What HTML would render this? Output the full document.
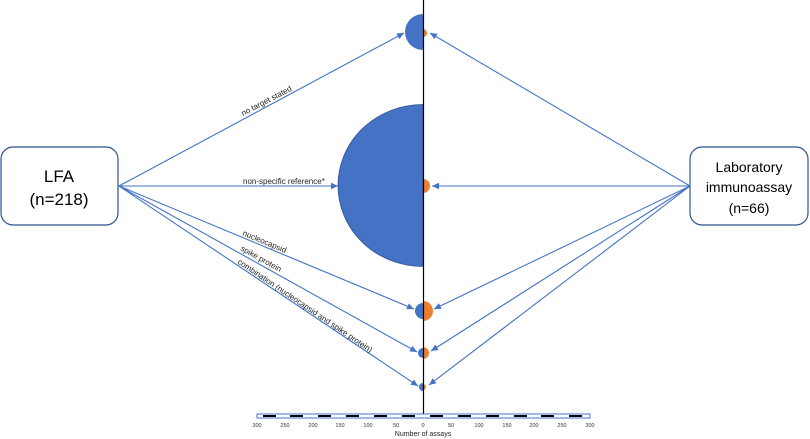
<!DOCTYPE html>
<html><head><meta charset="utf-8"><style>
body{margin:0;background:#fff;}
svg{display:block;font-family:"Liberation Sans",sans-serif;}
</style></head><body>
<svg width="810" height="439" viewBox="0 0 810 439" xmlns="http://www.w3.org/2000/svg">
<defs>
<marker id="a" markerWidth="8" markerHeight="8" refX="7" refY="4" orient="auto" markerUnits="userSpaceOnUse">
<path d="M0,0.8 L7,4 L0,7.2 z" fill="#4472c4"/></marker>
</defs>
<path d="M423,14 A18,18 0 0 0 423,50 Z" fill="#4472c4"/>
<path d="M423,104.5 A85,81 0 0 0 423,266.5 Z" fill="#4472c4" stroke="#2f528f" stroke-width="0.8"/>
<path d="M423,303 A8,8 0 0 0 423,319 Z" fill="#4472c4"/>
<path d="M423,348 A5,5 0 0 0 423,358 Z" fill="#4472c4"/>
<path d="M423,383 A4,4 0 0 0 423,391 Z" fill="#4472c4"/>
<path d="M423,29 A4,4 0 0 1 423,37 Z" fill="#ed7d31"/>
<path d="M423,179 A7,7 0 0 1 423,193 Z" fill="#ed7d31"/>
<path d="M423,301 A10,10 0 0 1 423,321 Z" fill="#ed7d31"/>
<path d="M423,347 A6,6 0 0 1 423,359 Z" fill="#ed7d31"/>
<path d="M423,384 A3,3 0 0 1 423,390 Z" fill="#ed7d31"/>
<line x1="423.5" y1="0" x2="423.5" y2="414" stroke="#000" stroke-width="1.2"/>
<rect x="1" y="147" width="117" height="78" rx="12" fill="#fff" stroke="#2f528f" stroke-width="1.2"/>
<text x="59" y="182" font-size="17" text-anchor="middle" fill="#000">LFA</text>
<text x="59" y="205" font-size="17" text-anchor="middle" fill="#000">(n=218)</text>
<rect x="690" y="147" width="118" height="78" rx="12" fill="#fff" stroke="#2f528f" stroke-width="1.2"/>
<text x="749" y="172" font-size="14" text-anchor="middle">Laboratory</text>
<text x="749" y="192" font-size="14" text-anchor="middle">immunoassay</text>
<text x="749" y="213" font-size="14" text-anchor="middle">(n=66)</text>
<g stroke="#4472c4" stroke-width="1.1" fill="none" marker-end="url(#a)">
<line x1="119" y1="186" x2="404" y2="33"/>
<line x1="119" y1="186" x2="338" y2="186"/>
<line x1="119" y1="186" x2="414" y2="309"/>
<line x1="119" y1="186" x2="417" y2="352"/>
<line x1="119" y1="186" x2="418" y2="386"/>
<line x1="690" y1="186" x2="430" y2="33"/>
<line x1="690" y1="186" x2="432" y2="186"/>
<line x1="690" y1="186" x2="434" y2="309"/>
<line x1="690" y1="186" x2="431" y2="351"/>
<line x1="690" y1="186" x2="429" y2="385"/>
</g>
<g font-size="8" fill="#222">
<text transform="translate(243,116) rotate(-27.5)">no target stated</text>
<text x="243" y="184">non-specific reference*</text>
<text transform="translate(242,235) rotate(22.8)">nucleocapsid</text>
<text transform="translate(240,250) rotate(29)">spike protein</text>
<text transform="translate(237,263) rotate(34)">combination (nucleocapsid and spike protein)</text>
</g>
<rect x="257" y="414" width="333" height="4" fill="#fff" stroke="#4472c4" stroke-width="1"/>
<g fill="#000">
<rect x="263" y="415" width="13" height="2"/><rect x="290" y="415" width="13" height="2"/>
<rect x="318" y="415" width="13" height="2"/><rect x="346" y="415" width="13" height="2"/>
<rect x="374" y="415" width="13" height="2"/><rect x="402" y="415" width="13" height="2"/>
<rect x="430" y="415" width="13" height="2"/><rect x="458" y="415" width="13" height="2"/>
<rect x="486" y="415" width="13" height="2"/><rect x="514" y="415" width="13" height="2"/>
<rect x="541" y="415" width="13" height="2"/><rect x="569" y="415" width="13" height="2"/>
</g>
<g font-size="5.5" fill="#333" text-anchor="middle">
<text x="257" y="427">300</text><text x="285" y="427">250</text><text x="313" y="427">200</text><text x="340" y="427">150</text><text x="368" y="427">100</text><text x="396" y="427">50</text><text x="423" y="427">0</text><text x="451" y="427">50</text><text x="479" y="427">100</text><text x="507" y="427">150</text><text x="534" y="427">200</text><text x="562" y="427">250</text><text x="590" y="427">300</text>
</g>
<text x="423" y="436" font-size="7" text-anchor="middle" fill="#222">Number of assays</text>
</svg>
</body></html>
